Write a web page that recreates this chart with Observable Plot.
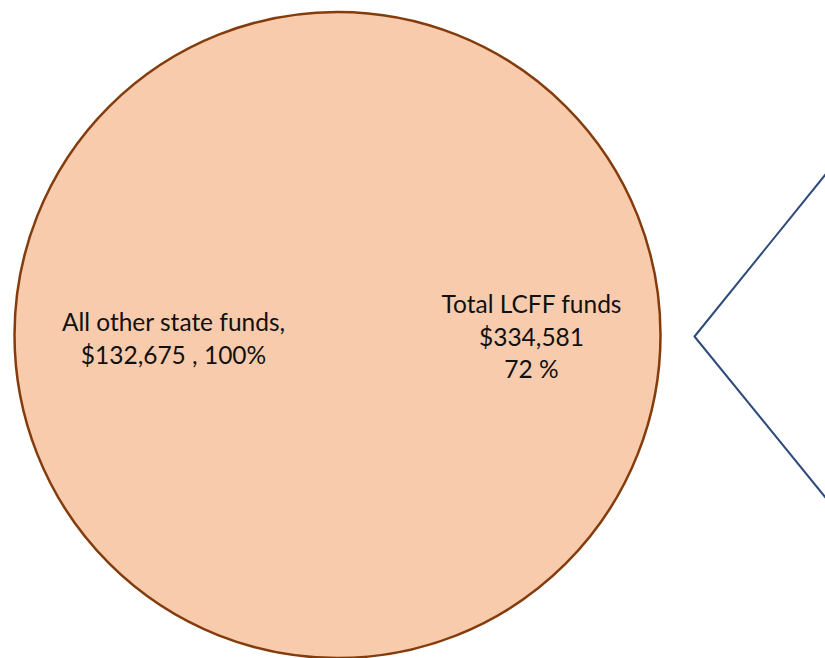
<!DOCTYPE html>
<html>
<head>
<meta charset="utf-8">
<script src="https://cdn.jsdelivr.net/npm/d3@7"></script>
<script src="https://cdn.jsdelivr.net/npm/@observablehq/plot@0.6"></script>
<style>
  html, body { margin: 0; padding: 0; background: #ffffff; }
  #chart svg { display: block; }
</style>
</head>
<body>
<div id="chart"></div>
<script>
// Data
const sliceNames = ["All other state funds"];
const sliceAmounts = [132675];
const slicePercents = [100];
const lcffLabel = "Total LCFF funds";
const lcffAmount = 334581;
const lcffPercent = 72;
// Connector bracket pointing to the detail (decoration)
const connectorX = [825, 694, 825];
const connectorY = [174, 336, 497];

const slices = sliceNames.map((n, i) => ({name: n, amount: sliceAmounts[i], pct: slicePercents[i]}));
const fmt = d3.format(",");
const connector = connectorX.map((x, i) => ({x, y: connectorY[i]}));

const font = "Lato, 'Open Sans', sans-serif";

const chart = Plot.plot({
  width: 825,
  height: 658,
  marginLeft: 13,
  marginRight: 164,
  marginTop: 12,
  marginBottom: 1,
  x: {type: "identity", axis: null},
  y: {type: "identity", axis: null},
  r: {type: "linear", domain: [0, 100], range: [0, 323]},
  style: {background: "#ffffff", fontFamily: font, overflow: "visible"},
  marks: [
    Plot.dot(slices, {
      r: "pct",
      frameAnchor: "middle",
      fill: "#F8CBAD",
      stroke: "#843C0C",
      strokeWidth: 2.5
    }),
    Plot.text(slices, {
      text: d => `${d.name},\n$${fmt(d.amount)} , ${d.pct}%`,
      frameAnchor: "middle",
      dx: -164,
      dy: 2,
      lineHeight: 1.34,
      fontSize: 24.5,
      fill: "#111111"
    }),
    Plot.text([{label: lcffLabel, amount: lcffAmount, pct: lcffPercent}], {
      text: d => `${d.label}\n$${fmt(d.amount)}\n${d.pct} %`,
      frameAnchor: "middle",
      dx: 194,
      dy: 0,
      lineHeight: 1.34,
      fontSize: 24.5,
      fill: "#111111"
    }),
    Plot.line(connector, {
      x: "x",
      y: "y",
      stroke: "#2F4B7C",
      strokeWidth: 2,
      clip: false
    })
  ]
});
document.getElementById("chart").appendChild(chart);
</script>
</body>
</html>
